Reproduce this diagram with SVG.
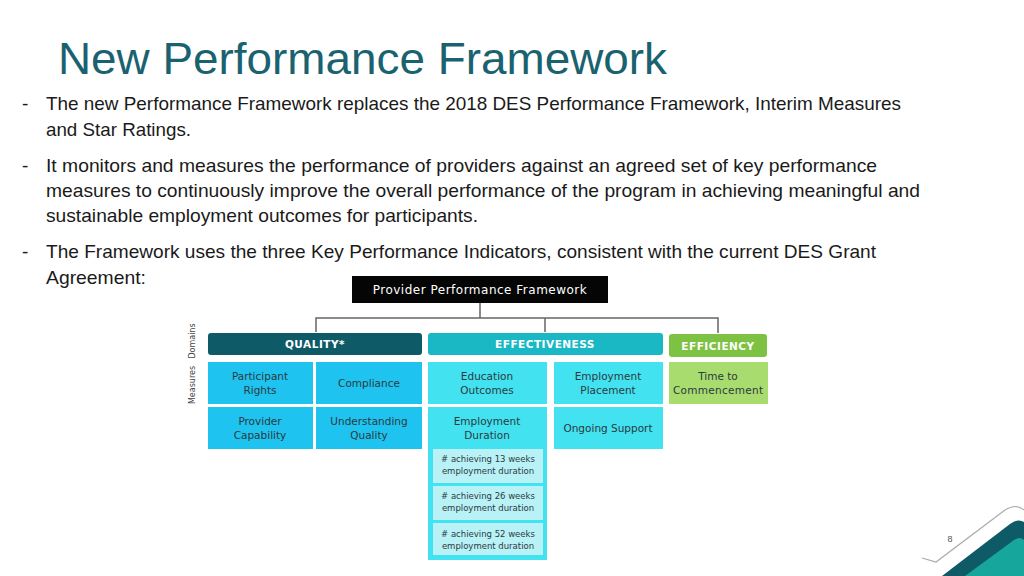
<svg xmlns="http://www.w3.org/2000/svg" width="1024" height="576" viewBox="0 0 1024 576">
<style>
.b{font-family:"Liberation Sans",Arial,sans-serif;font-size:19px;fill:#1a1a1a}
.c{font-family:"DejaVu Sans",sans-serif;font-size:10.5px;fill:#2b3a40;text-anchor:middle}
.s{font-family:"DejaVu Sans",sans-serif;font-size:8.5px;fill:#2b3a40;text-anchor:middle}
.h{font-family:"DejaVu Sans",sans-serif;font-size:10.5px;font-weight:bold;fill:#fff;text-anchor:middle;letter-spacing:0.5px}
.q{fill:#1ec3ef}.e{fill:#42e2f0}.g{fill:#a8dc6e}
</style>
<rect width="1024" height="576" fill="#fff"/>
<text x="58" y="74" font-family="Liberation Sans,Arial,sans-serif" font-size="44" fill="#1a6270" textLength="609" lengthAdjust="spacingAndGlyphs">New Performance Framework</text>
<g class="b" lengthAdjust="spacingAndGlyphs">
<text x="22" y="110">-</text><text x="46" y="110" textLength="855" lengthAdjust="spacingAndGlyphs">The new Performance Framework replaces the 2018 DES Performance Framework, Interim Measures</text>
<text x="46" y="136" textLength="145" lengthAdjust="spacingAndGlyphs">and Star Ratings.</text>
<text x="22" y="172">-</text><text x="46" y="172" textLength="831" lengthAdjust="spacingAndGlyphs">It monitors and measures the performance of providers against an agreed set of key performance</text>
<text x="46" y="197" textLength="874" lengthAdjust="spacingAndGlyphs">measures to continuously improve the overall performance of the program in achieving meaningful and</text>
<text x="46" y="222" textLength="432" lengthAdjust="spacingAndGlyphs">sustainable employment outcomes for participants.</text>
<text x="22" y="258">-</text><text x="46" y="258" textLength="830" lengthAdjust="spacingAndGlyphs">The Framework uses the three Key Performance Indicators, consistent with the current DES Grant</text>
<text x="46" y="284" textLength="100" lengthAdjust="spacingAndGlyphs">Agreement:</text>
</g>
<g id="connectors" fill="none" stroke="#666" stroke-width="1.5">
<path d="M480 303V318M316 332V318H718V333M545 318V332"/>
</g>
<g id="header"><rect x="352" y="276" width="256" height="27" fill="#050505"/><text x="480" y="294" class="h" style="font-weight:normal;font-size:12px">Provider Performance Framework</text></g>
<g id="labels" font-family="DejaVu Sans,sans-serif" font-size="8" fill="#444" text-anchor="middle">
<text transform="translate(195,341) rotate(-90)">Domains</text>
<text transform="translate(195,385) rotate(-90)">Measures</text>
</g>
<g id="quality"><rect x="208" y="333" width="214" height="22" rx="3" fill="#0e5a66"/><text x="315" y="348" class="h">QUALITY*</text></g>
<g id="effectiveness"><rect x="428" y="333" width="235" height="22" rx="3" fill="#1ab8c4"/><text x="545" y="348" class="h">EFFECTIVENESS</text></g>
<g id="efficiency"><rect x="669" y="334" width="98" height="23" rx="3" fill="#7dc242"/><text x="718" y="350" class="h">EFFICIENCY</text></g>
<g id="m1"><rect x="208" y="362" width="105" height="42" class="q"/><text x="260" y="380" class="c">Participant</text><text x="260" y="394" class="c">Rights</text></g>
<g id="m2"><rect x="316" y="362" width="106" height="42" class="q"/><text x="369" y="387" class="c">Compliance</text></g>
<g id="m3"><rect x="428" y="362" width="119" height="42" class="e"/><text x="487" y="380" class="c">Education</text><text x="487" y="394" class="c">Outcomes</text></g>
<g id="m4"><rect x="554" y="362" width="109" height="42" class="e"/><text x="608" y="380" class="c">Employment</text><text x="608" y="394" class="c">Placement</text></g>
<g id="m5"><rect x="669" y="362" width="99" height="42" class="g"/><text x="718" y="380" class="c">Time to</text><text x="718" y="394" class="c" textLength="90">Commencement</text></g>
<g id="m6"><rect x="208" y="407" width="105" height="42" class="q"/><text x="260" y="425" class="c">Provider</text><text x="260" y="439" class="c">Capability</text></g>
<g id="m7"><rect x="316" y="407" width="106" height="42" class="q"/><text x="369" y="425" class="c">Understanding</text><text x="369" y="439" class="c">Quality</text></g>
<g id="m8"><rect x="428" y="407" width="119" height="153" class="e"/><text x="487" y="425" class="c">Employment</text><text x="487" y="439" class="c">Duration</text>
<rect x="433" y="449" width="110" height="34" fill="#b8f1f6"/><text x="488" y="462" class="s"># achieving 13 weeks</text><text x="488" y="474" class="s">employment duration</text>
<rect x="433" y="486" width="110" height="34" fill="#b8f1f6"/><text x="488" y="499" class="s"># achieving 26 weeks</text><text x="488" y="511" class="s">employment duration</text>
<rect x="433" y="523" width="110" height="32" fill="#b8f1f6"/><text x="488" y="537" class="s"># achieving 52 weeks</text><text x="488" y="549" class="s">employment duration</text></g>
<g id="m9"><rect x="554" y="407" width="109" height="42" class="e"/><text x="608" y="432" class="c">Ongoing Support</text></g>
<g id="corner">
<path d="M922 558L936 562L1005 510Q1016 503 1024 510" fill="none" stroke="#aaa" stroke-width="1.2"/>
<path d="M942 576L1010 524Q1018 518 1024 522V576Z" fill="#0e5a66"/>
<path d="M965 576L1014 540Q1020 536 1024 540V576Z" fill="#16a69c"/>
<text x="950" y="542" font-family="Liberation Sans,Arial,sans-serif" font-size="9" fill="#555" text-anchor="middle">8</text>
</g>
</svg>
